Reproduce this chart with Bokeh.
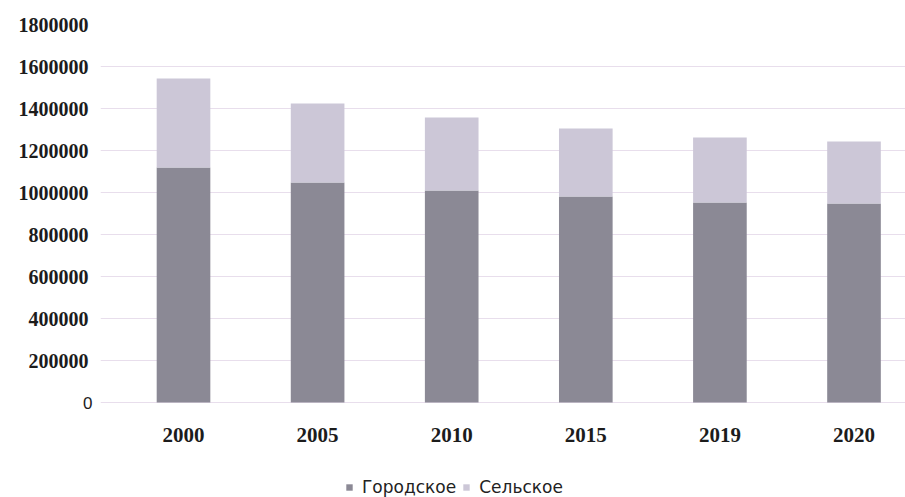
from bokeh.plotting import figure
from bokeh.models import ColumnDataSource, Range1d, FixedTicker, Legend, LegendItem, LinearAxis, Grid
from bokeh.embed import file_html
from bokeh.resources import INLINE

years = ["2000", "2005", "2010", "2015", "2019", "2020"]
urban = [1119000, 1048000, 1010000, 981000, 952000, 948000]
rural = [424000, 376000, 347000, 324000, 310000, 295000]
y_ticks = [0, 200000, 400000, 600000, 800000, 1000000, 1200000, 1400000, 1600000, 1800000]
series_names = ["Городское", "Сельское"]
colors = ["#8b8995", "#ccc7d7"]

xs = list(range(len(years)))
source = ColumnDataSource(data=dict(x=xs, urban=urban, rural=rural))

# layout (pixels): value axis spans 378 px; the space below zero holds year labels and legend
PLOT_W = 905
PLOT_H = 497
TOP = 24
LEFT = 100
AXIS_PX = 378
BELOW_PX = PLOT_H - TOP - AXIS_PX
y_end = y_ticks[-1]
y_start = -y_end * BELOW_PX / AXIS_PX
x_start = -0.619
x_end = x_start + (PLOT_W - LEFT) / 134.1

p = figure(width=PLOT_W, height=PLOT_H, output_backend="svg", toolbar_location=None,
           x_range=Range1d(x_start, x_end), y_range=Range1d(y_start, y_end),
           y_axis_location=None, x_axis_location=None,
           min_border_left=LEFT, min_border_right=0, min_border_top=TOP, min_border_bottom=0)
p.outline_line_color = None
p.background_fill_color = "white"
p.border_fill_color = "white"
for g in p.grid:
    g.visible = False

renderers = p.vbar_stack(["urban", "rural"], x="x", width=0.40, source=source,
                         color=colors, line_color=None)

# x axis drawn at value 0 inside the frame
xa = LinearAxis(ticker=FixedTicker(ticks=xs), fixed_location=0,
                major_label_overrides={i: y for i, y in zip(xs, years)},
                axis_line_color=None, major_tick_line_color=None, minor_tick_line_color=None,
                major_label_text_font="Liberation Serif", major_label_text_font_style="bold",
                major_label_text_color="#1c1c1c", major_label_text_font_size="21px",
                major_label_standoff=19)
p.add_layout(xa, "below")

# y axes: "0" in a sans face next to the frame, others in bold serif
zero_axis = LinearAxis(ticker=FixedTicker(ticks=y_ticks[:1]),
                       major_label_overrides={y_ticks[0]: str(y_ticks[0])},
                       axis_line_color=None, major_tick_line_color=None, minor_tick_line_color=None,
                       major_label_text_font="Liberation Sans", major_label_text_font_size="17px",
                       major_label_text_color="#1c1c1c", major_label_standoff=2)
main_overrides = {v: str(v) for v in y_ticks}
main_overrides[y_ticks[0]] = ""
main_axis = LinearAxis(ticker=FixedTicker(ticks=y_ticks), major_label_overrides=main_overrides,
                       axis_line_color=None, major_tick_line_color=None, minor_tick_line_color=None,
                       major_label_text_font="Liberation Serif", major_label_text_font_style="bold",
                       major_label_text_font_size="20px", major_label_text_color="#1c1c1c",
                       major_label_standoff=-14)
p.add_layout(zero_axis, "left")
p.add_layout(main_axis, "left")

p.add_layout(Grid(dimension=1, ticker=FixedTicker(ticks=y_ticks),
                  grid_line_color="#e8deec", grid_line_width=1))

legend = Legend(items=[LegendItem(label=n, renderers=[r]) for n, r in zip(series_names, renderers)],
                orientation="horizontal", location=(245, 0),
                glyph_width=8, glyph_height=8, label_standoff=9, spacing=6,
                padding=0, margin=0, border_line_color=None, background_fill_alpha=0,
                label_text_font="DejaVu Sans", label_text_font_size="17px",
                label_text_color="#222222")
p.add_layout(legend, "center")

open("out.html", "w").write(file_html(p, INLINE))
